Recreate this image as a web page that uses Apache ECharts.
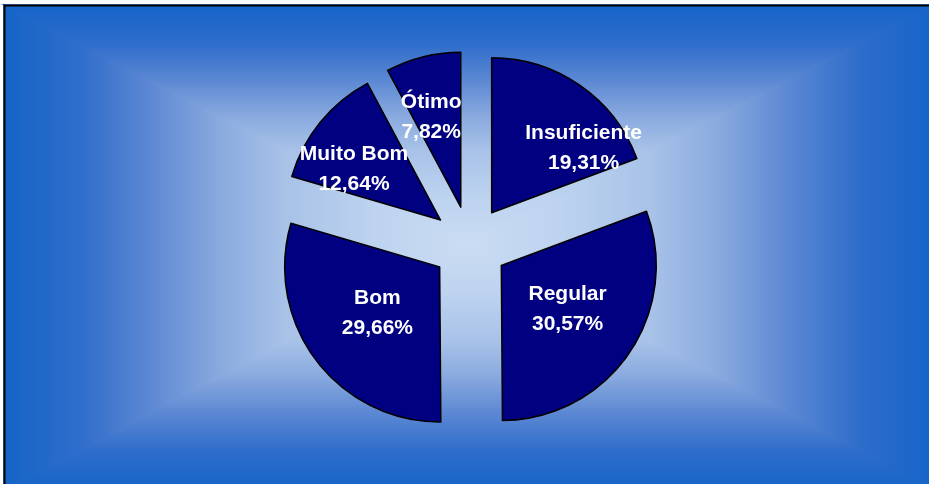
<!DOCTYPE html>
<html>
<head>
<meta charset="utf-8">
<style>
html,body{margin:0;padding:0;background:#fff;}
#chart{width:929px;height:484px;}
</style>
<script src="https://cdn.jsdelivr.net/npm/echarts@6/dist/echarts.min.js"></script>
</head>
<body>
<div id="chart"></div>
<script>
var categories = ['Insuficiente', 'Regular', 'Bom', 'Muito Bom', 'Ótimo'];
var values = [19.31, 30.57, 29.66, 12.64, 7.82];

// label nudges (style only)
var labelDx = [46, 0, 2, -24, -10];
var labelDy = [2, -2, -2, 0, -12];

var chart = echarts.init(document.getElementById('chart'), null, {renderer: 'canvas'});

var L = 4, T = 5, R = 936, B = 490, CX = 467, CY = 245;
var stops = [
  {offset: 0, color: '#1464c8'},
  {offset: 0.165, color: '#2f6dcb'},
  {offset: 0.315, color: '#5c88d3'},
  {offset: 0.467, color: '#8aaadf'},
  {offset: 0.607, color: '#a8c2e8'},
  {offset: 0.8, color: '#bdd3ef'},
  {offset: 1, color: '#cadcf3'}
];
function grad(x, y, x2, y2) {
  return new echarts.graphic.LinearGradient(x, y, x2, y2, stops);
}
function tri(pts, g) {
  return {type: 'polygon', z: -10, silent: true, shape: {points: pts},
    style: {fill: g, stroke: g, lineWidth: 1.5}};
}

var data = categories.map(function (c, i) {
  return {name: c, value: values[i], selected: true};
});

chart.setOption({
  animation: false,
  backgroundColor: '#ffffff',
  graphic: [
    tri([[L, T], [L, B], [CX, CY]], grad(0, 0, 1, 0)),
    tri([[R, T], [R, B], [CX, CY]], grad(1, 0, 0, 0)),
    tri([[L, T], [R, T], [CX, CY]], grad(0, 0, 0, 1)),
    tri([[L, B], [R, B], [CX, CY]], grad(0, 1, 0, 0)),
    {type: 'rect', z: -9, silent: true, shape: {x: L + 0.5, y: T + 0.5, width: R - L, height: B - T}, style: {fill: null, stroke: '#000', lineWidth: 2}}
  ],
  series: [{
    type: 'pie',
    center: [470, 244],
    radius: 155,
    startAngle: 90,
    clockwise: true,
    selectedMode: 'multiple',
    selectedOffset: 38,
    avoidLabelOverlap: false,
    data: data,
    itemStyle: {color: '#000080', borderColor: '#000000', borderWidth: 1.5},
    select: {itemStyle: {color: '#000080', borderColor: '#000000', borderWidth: 1.5}},
    emphasis: {disabled: true},
    label: {
      show: true,
      position: 'inside',
      color: '#ffffff',
      fontFamily: 'Liberation Sans, Arial, sans-serif',
      fontWeight: 'bold',
      fontSize: 21,
      lineHeight: 30,
      align: 'center',
      formatter: function (p) {
        return p.name + '\n' + p.value.toFixed(2).replace('.', ',') + '%';
      }
    },
    labelLine: {show: false},
    labelLayout: function (p) {
      return {dx: labelDx[p.dataIndex], dy: labelDy[p.dataIndex]};
    }
  }]
});
</script>
</body>
</html>
